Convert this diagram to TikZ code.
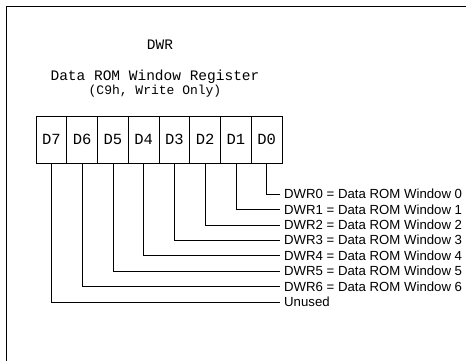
\documentclass[tikz,border=0pt]{standalone}
\usepackage{fontspec}
\setmainfont{Liberation Serif}
\setsansfont{Liberation Sans}
\setmonofont{Liberation Mono}
\usetikzlibrary{positioning}

\begin{document}
\begin{tikzpicture}[
    x=1pt, y=-1pt,
    bitcell/.style={rectangle, draw, line width=0.9pt, minimum width=30.75pt, minimum height=47pt, inner sep=0pt, outer sep=0pt, font=\ttfamily\fontsize{15.5}{15.5}\selectfont},
    title/.style={font=\ttfamily\fontsize{14.5}{14.5}\selectfont, inner sep=0pt},
    bitlabel/.style={anchor=west, inner sep=0pt, inner xsep=4pt, font=\sffamily\fontsize{13.2}{13.2}\selectfont},
    wire/.style={line width=0.6pt}
]
\useasboundingbox (0,0) rectangle (466,361);

% Frame
\draw[line width=1.8pt] (466,6.5) -- (6.5,6.5) -- (6.5,361);

% Titles
\node[title] (name) at (160,45) {DWR};
\node[title] (full) at (155,77) {Data ROM Window Register};
\node[title, font=\ttfamily\fontsize{13}{13}\selectfont] (addr) at (155,91) {(C9h, Write Only)};

% Register cells
\node[bitcell] (b7) at (51.4,139.5) {D7};
\node[bitcell, right=0pt of b7] (b6) {D6};
\node[bitcell, right=0pt of b6] (b5) {D5};
\node[bitcell, right=0pt of b5] (b4) {D4};
\node[bitcell, right=0pt of b4] (b3) {D3};
\node[bitcell, right=0pt of b3] (b2) {D2};
\node[bitcell, right=0pt of b2] (b1) {D1};
\node[bitcell, right=0pt of b1] (b0) {D0};

% Bit descriptions
\node[bitlabel] (l0) at (280,194) {DWR0 = Data ROM Window 0};
\node[bitlabel] (l1) at (280,209.4) {DWR1 = Data ROM Window 1};
\node[bitlabel] (l2) at (280,224.8) {DWR2 = Data ROM Window 2};
\node[bitlabel] (l3) at (280,240.2) {DWR3 = Data ROM Window 3};
\node[bitlabel] (l4) at (280,255.6) {DWR4 = Data ROM Window 4};
\node[bitlabel] (l5) at (280,271) {DWR5 = Data ROM Window 5};
\node[bitlabel] (l6) at (280,286.4) {DWR6 = Data ROM Window 6};
\node[bitlabel] (l7) at (280,301.8) {Unused};

% Connectors
\draw[wire] (b0.south) |- (l0.west);
\draw[wire] (b1.south) |- (l1.west);
\draw[wire] (b2.south) |- (l2.west);
\draw[wire] (b3.south) |- (l3.west);
\draw[wire] (b4.south) |- (l4.west);
\draw[wire] (b5.south) |- (l5.west);
\draw[wire] (b6.south) |- (l6.west);
\draw[wire] (b7.south) |- (l7.west);

\end{tikzpicture}
\end{document}
